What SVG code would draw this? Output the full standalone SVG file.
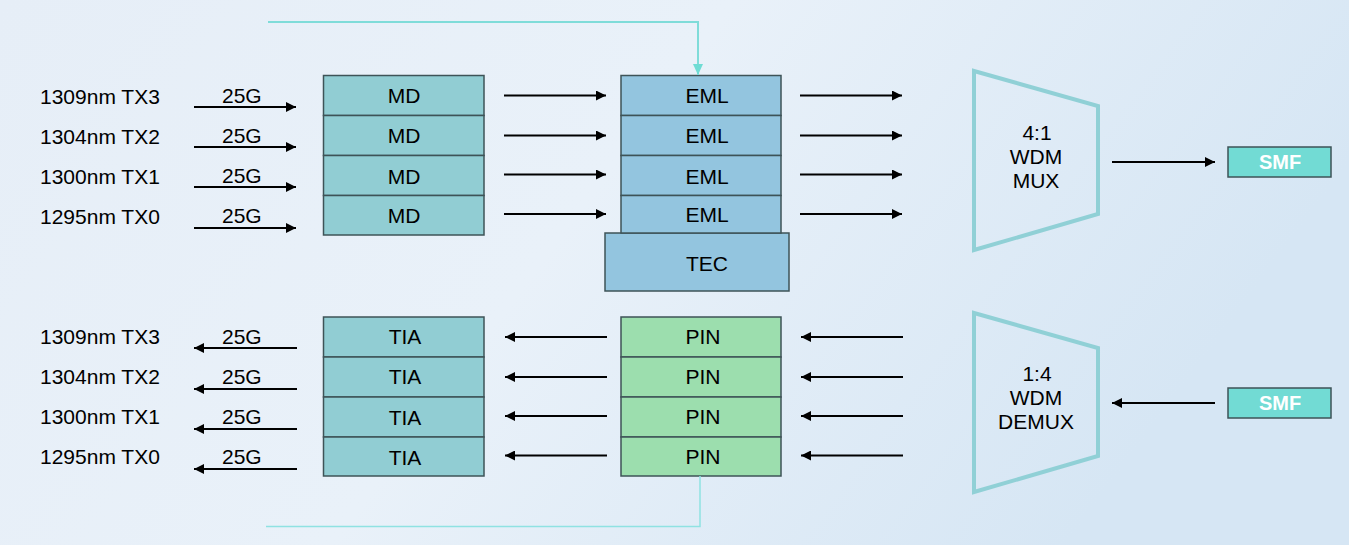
<svg xmlns="http://www.w3.org/2000/svg" width="1349" height="545" viewBox="0 0 1349 545">
<defs>
<linearGradient id="bg" x1="0" y1="0" x2="1" y2="0.3">
<stop offset="0" stop-color="#e6eef7"/>
<stop offset="0.5" stop-color="#e9f1f9"/>
<stop offset="1" stop-color="#d6e6f4"/>
</linearGradient>
<marker id="ah" markerWidth="10" markerHeight="10" refX="10" refY="5" orient="auto" markerUnits="userSpaceOnUse">
<path d="M0,0 L10,5 L0,10 Z" fill="#000"/>
</marker>
<marker id="ahc" markerWidth="10" markerHeight="11" refX="11" refY="5" orient="auto" markerUnits="userSpaceOnUse">
<path d="M0,0 L11,5 L0,10 Z" fill="#6fdcd4"/>
</marker>
<style>
text{font-family:"Liberation Sans",Arial,sans-serif;font-size:21px;fill:#000}
.c{text-anchor:middle}
.md{fill:#91cdd3;stroke:#3e5357;stroke-width:1.5}
.eml{fill:#93c5df;stroke:#3e5357;stroke-width:1.5}
.pin{fill:#9cdeae;stroke:#3e5357;stroke-width:1.5}
.smf{fill:#72dbd4;stroke:#3e5357;stroke-width:1.5}
.smft{fill:#fff;font-weight:bold;font-size:20px;text-anchor:middle}
.trap{fill:none;stroke:#90d0d6;stroke-width:4}
.ar{stroke:#000;stroke-width:2;fill:none;marker-end:url(#ah)}
.cy{stroke:#7fdcd9;stroke-width:2;fill:none}
</style>
</defs>
<rect width="1349" height="545" fill="url(#bg)"/>

<g id="labels-tx">
<text x="40" y="104">1309nm TX3</text>
<text x="40" y="144">1304nm TX2</text>
<text x="40" y="184">1300nm TX1</text>
<text x="40" y="224">1295nm TX0</text>
<text x="222" y="103">25G</text>
<text x="222" y="143">25G</text>
<text x="222" y="183">25G</text>
<text x="222" y="223">25G</text>
</g>
<g id="labels-rx">
<text x="40" y="344">1309nm TX3</text>
<text x="40" y="384">1304nm TX2</text>
<text x="40" y="424">1300nm TX1</text>
<text x="40" y="464">1295nm TX0</text>
<text x="222" y="344">25G</text>
<text x="222" y="384">25G</text>
<text x="222" y="424">25G</text>
<text x="222" y="464">25G</text>
</g>

<g id="md">
<rect class="md" x="323.5" y="75.5" width="160.5" height="40"/>
<rect class="md" x="323.5" y="115.5" width="160.5" height="40"/>
<rect class="md" x="323.5" y="155.5" width="160.5" height="40"/>
<rect class="md" x="323.5" y="195.5" width="160.5" height="39.5"/>
<text class="c" x="404" y="103">MD</text>
<text class="c" x="404" y="143">MD</text>
<text class="c" x="404" y="184">MD</text>
<text class="c" x="404" y="223">MD</text>
</g>

<g id="tec">
<rect class="eml" x="605" y="233" width="184" height="58"/>
<text class="c" x="707" y="271">TEC</text>
</g>
<g id="eml">
<rect class="eml" x="621" y="75.5" width="160" height="40"/>
<rect class="eml" x="621" y="115.5" width="160" height="40"/>
<rect class="eml" x="621" y="155.5" width="160" height="40"/>
<rect class="eml" x="621" y="195.5" width="160" height="37.5"/>
<text class="c" x="707" y="103">EML</text>
<text class="c" x="707" y="143">EML</text>
<text class="c" x="707" y="184">EML</text>
<text class="c" x="707" y="222">EML</text>
</g>

<g id="mux">
<polygon class="trap" points="974,71 1098,106 1098,214 974,250"/>
<text class="c" x="1037" y="140">4:1</text>
<text class="c" x="1036" y="164">WDM</text>
<text class="c" x="1036" y="188">MUX</text>
</g>
<g id="smf-tx">
<rect class="smf" x="1228" y="147" width="103" height="30"/>
<text class="smft" x="1280" y="169">SMF</text>
</g>

<g id="tia">
<rect class="md" x="323.5" y="317" width="160.5" height="40"/>
<rect class="md" x="323.5" y="357" width="160.5" height="40"/>
<rect class="md" x="323.5" y="397" width="160.5" height="40"/>
<rect class="md" x="323.5" y="437" width="160.5" height="39"/>
<text class="c" x="405" y="344">TIA</text>
<text class="c" x="405" y="384">TIA</text>
<text class="c" x="405" y="425">TIA</text>
<text class="c" x="405" y="465">TIA</text>
</g>
<g id="pin">
<rect class="pin" x="621" y="317" width="160" height="40"/>
<rect class="pin" x="621" y="357" width="160" height="40"/>
<rect class="pin" x="621" y="397" width="160" height="40"/>
<rect class="pin" x="621" y="437" width="160" height="39"/>
<text class="c" x="703" y="344">PIN</text>
<text class="c" x="703" y="384">PIN</text>
<text class="c" x="703" y="424">PIN</text>
<text class="c" x="703" y="464">PIN</text>
</g>

<g id="demux">
<polygon class="trap" points="974,313 1098,348 1098,456 974,492"/>
<text class="c" x="1037" y="381">1:4</text>
<text class="c" x="1036" y="405">WDM</text>
<text class="c" x="1036" y="429">DEMUX</text>
</g>
<g id="smf-rx">
<rect class="smf" x="1228" y="388" width="103" height="30"/>
<text class="smft" x="1280" y="410">SMF</text>
</g>

<g id="connectors">
<path class="ar" d="M194,107 H296"/>
<path class="ar" d="M194,147 H296"/>
<path class="ar" d="M194,187 H296"/>
<path class="ar" d="M194,228 H296"/>
<path class="ar" d="M504,95.5 H606"/>
<path class="ar" d="M504,135.5 H606"/>
<path class="ar" d="M504,174.5 H606"/>
<path class="ar" d="M504,214 H606"/>
<path class="ar" d="M800,95.5 H902"/>
<path class="ar" d="M800,135.5 H902"/>
<path class="ar" d="M800,174.5 H902"/>
<path class="ar" d="M800,214 H902"/>
<path class="ar" d="M1112,162 H1215"/>

<path class="ar" d="M297,348 H194"/>
<path class="ar" d="M297,389 H194"/>
<path class="ar" d="M297,429 H194"/>
<path class="ar" d="M297,469 H194"/>
<path class="ar" d="M607,337 H505"/>
<path class="ar" d="M607,377 H505"/>
<path class="ar" d="M607,416 H505"/>
<path class="ar" d="M607,455.5 H505"/>
<path class="ar" d="M903,337 H801"/>
<path class="ar" d="M903,377 H801"/>
<path class="ar" d="M903,416 H801"/>
<path class="ar" d="M903,455.5 H801"/>
<path class="ar" d="M1215,403 H1112"/>

<path class="cy" d="M268,22 H698 V75" marker-end="url(#ahc)"/>
<path d="M700,476 V526.5 H266" fill="none" stroke="#8fe2e2" stroke-width="1.5"/>
</g>
</svg>
